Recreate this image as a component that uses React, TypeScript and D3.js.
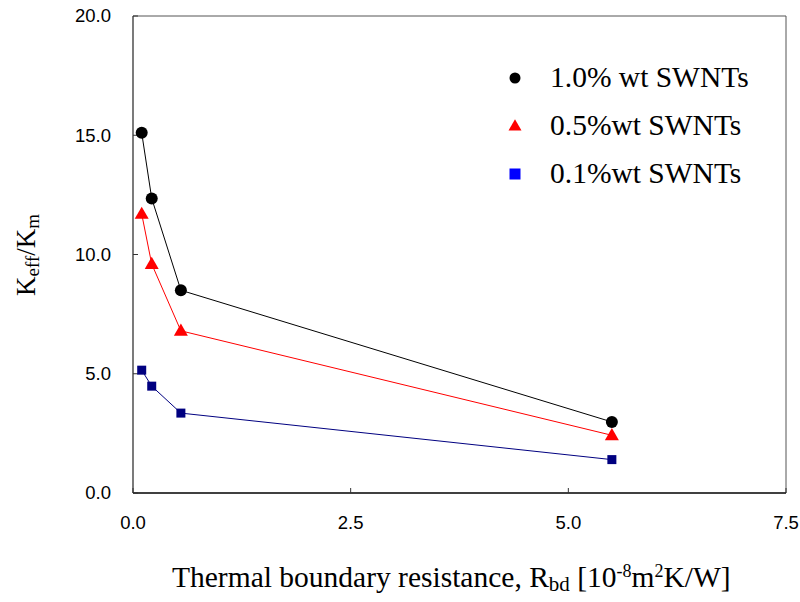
import React from 'react';
import * as d3 from 'd3';

const xs = [0.1, 0.215, 0.55, 5.5];
const swnt10 = [15.1, 12.35, 8.5, 2.98];
const swnt05 = [11.7, 9.6, 6.8, 2.42];
const swnt01 = [5.15, 4.48, 3.35, 1.4];
const xTicks = [0, 2.5, 5, 7.5];
const yTicks = [0, 5, 10, 15, 20];
const names = ['1.0% wt SWNTs', '0.5%wt SWNTs', '0.1%wt SWNTs'];

const width = 800;
const height = 602;
const left = 133;
const right = 786;
const top = 16;
const bottom = 493;

const serif = "'Liberation Serif', 'Times New Roman', serif";
const sans = "'Liberation Sans', Arial, sans-serif";

const App = () => {
  const x = d3.scaleLinear().domain([0, 7.5]).range([left, right]);
  const y = d3.scaleLinear().domain([0, 20]).range([bottom, top]);
  const line = d3.line<number>().x((d, i) => x(xs[i])).y(d => y(d));

  const series = [
    { vals: swnt10, color: '#000', mark: 'circle', legendColor: '#000' },
    { vals: swnt05, color: '#ff0000', mark: 'triangle', legendColor: '#ff0000' },
    { vals: swnt01, color: '#000080', mark: 'square', legendColor: '#0000ff' },
  ];

  const marker = (kind: string, cx: number, cy: number, s: number, fill: string, key: string) => {
    if (kind === 'circle') return <circle key={key} cx={cx} cy={cy} r={s / 2} fill={fill} />;
    if (kind === 'triangle') {
      const h = s * 0.87;
      return <path key={key} d={`M${cx},${cy - h * 0.6}L${cx + s / 2},${cy + h * 0.4}L${cx - s / 2},${cy + h * 0.4}Z`} fill={fill} />;
    }
    return <rect key={key} x={cx - s / 2} y={cy - s / 2} width={s} height={s} fill={fill} />;
  };

  const sizes: Record<string, number> = { circle: 12, triangle: 14, square: 9 };
  const legendSizes: Record<string, number> = { circle: 11, triangle: 13, square: 11 };

  return (
    <svg width={width} height={height} style={{ position: 'absolute', left: 0, top: 0 }}>
      <rect x={0} y={0} width={width} height={height} fill="#fff" />
      {/* frame */}
      <line x1={left} x2={right} y1={top} y2={top} stroke="#555" strokeWidth={1} />
      <line x1={right} x2={right} y1={top} y2={bottom} stroke="#555" strokeWidth={1} />
      <line x1={left} x2={left} y1={top} y2={bottom} stroke="#333" strokeWidth={1.3} />
      <line x1={left} x2={right} y1={bottom} y2={bottom} stroke="#000" strokeWidth={1.5} />
      {yTicks.map(t => (
        <g key={'y' + t}>
          <line x1={left} x2={left + 5} y1={y(t)} y2={y(t)} stroke="#333" />
          <text x={111} y={y(t)} dy="0.35em" textAnchor="end" fontFamily={sans} fontSize={18.5}>
            {d3.format('.1f')(t)}
          </text>
        </g>
      ))}
      {xTicks.map(t => (
        <g key={'x' + t}>
          <line x1={x(t)} x2={x(t)} y1={bottom} y2={bottom - 5} stroke="#333" />
          <text x={x(t)} y={529} textAnchor="middle" fontFamily={sans} fontSize={18.5}>
            {d3.format('.1f')(t)}
          </text>
        </g>
      ))}
      {series.map((s, si) => (
        <g key={'s' + si}>
          <path d={line(s.vals) || ''} fill="none" stroke={s.color} strokeWidth={1} />
          {s.vals.map((v, i) => marker(s.mark, x(xs[i]), y(v), sizes[s.mark], s.color, `m${si}-${i}`))}
        </g>
      ))}
      {series.map((s, si) => (
        <g key={'l' + si}>
          {marker(s.mark, 515, 78 + si * 48, legendSizes[s.mark], s.legendColor, `lm${si}`)}
          <text x={550} y={87 + si * 48} fontFamily={serif} fontSize={29.5}>
            {names[si]}
          </text>
        </g>
      ))}
      <text x={172} y={587} fontFamily={serif} fontSize={29.5}>
        Thermal boundary resistance, R<tspan dy={4} fontSize={21}>bd</tspan>
        <tspan dy={-4}> [10</tspan><tspan dy={-10} fontSize={18}>-8</tspan>
        <tspan dy={10}>m</tspan><tspan dy={-10} fontSize={18}>2</tspan><tspan dy={10}>K/W]</tspan>
      </text>
      <text transform="translate(35,255) rotate(-90)" textAnchor="middle" fontFamily={serif} fontSize={27}>
        K<tspan dy={4} fontSize={19}>eff</tspan><tspan dy={-4}>/K</tspan><tspan dy={4} fontSize={19}>m</tspan>
      </text>
    </svg>
  );
};

export default App;
